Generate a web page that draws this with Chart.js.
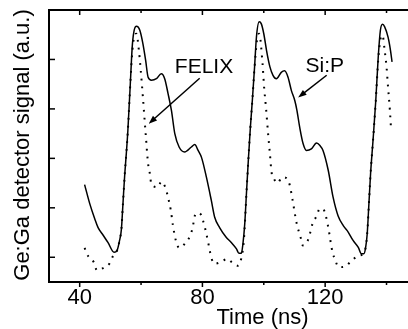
<!DOCTYPE html>
<html>
<head>
<meta charset="utf-8">
<script src="https://cdn.jsdelivr.net/npm/chart.js@4/dist/chart.umd.min.js"></script>
<style>
  html, body { margin: 0; padding: 0; background: #fff; }
  #wrap { width: 408px; height: 329px; position: relative; }
</style>
</head>
<body>
<div id="wrap"><canvas id="chartCanvas"></canvas></div>
<script>
    // Si:P signal (solid line)
    const siTime = [41.6, 43.3, 44.9, 46.0, 47.6, 49.2, 51.2, 52.2, 53.0, 53.6, 54.1, 54.7, 55.2, 55.7, 56.5, 57.2, 58.5, 59.6, 60.6, 61.5,
      62.3, 63.4, 65.0, 66.6, 67.7, 68.8, 69.9, 71.0, 72.4, 74.2, 76.4, 77.5, 78.6, 79.7, 81.3, 82.9, 84.0, 85.6, 87.8, 89.4,
      91.1, 91.9, 92.7, 93.2, 93.8, 94.4, 95.0, 95.6, 96.3, 97.0, 97.6, 98.5, 99.2, 100.0, 100.9, 102.0, 103.0, 104.1, 105.7, 106.8,
      107.9, 109.0, 110.1, 110.8, 111.7, 112.8, 113.9, 115.5, 117.2, 118.3, 119.3, 121.0, 122.6, 124.2, 125.9, 127.5, 129.1, 130.8, 131.8, 132.6,
      133.2, 133.7, 134.2, 134.8, 135.6, 136.5, 137.3, 138.0, 138.7, 139.4, 140.5, 141.3, 141.8];
    const siSignal = [1.47, 1.08, 0.78, 0.60, 0.45, 0.30, 0.10, 0.14, 0.34, 0.57, 1.08, 1.69, 2.10, 2.56, 3.51, 4.32, 4.67, 4.59, 4.32, 3.98,
      3.64, 3.58, 3.61, 3.71, 3.61, 3.31, 2.97, 2.50, 2.23, 2.13, 2.23, 2.28, 2.16, 2.02, 1.62, 1.15, 0.81, 0.60, 0.40, 0.30,
      0.17, 0.08, 0.08, 0.27, 0.68, 1.35, 2.00, 2.60, 3.20, 3.85, 4.45, 4.76, 4.72, 4.52, 4.18, 3.85, 3.68, 3.61, 3.74, 3.77,
      3.64, 3.37, 3.17, 2.97, 2.63, 2.30, 2.16, 2.19, 2.31, 2.26, 2.16, 1.76, 1.21, 0.84, 0.64, 0.51, 0.34, 0.20, 0.07, 0.07,
      0.20, 0.47, 1.01, 1.69, 2.36, 3.17, 4.05, 4.59, 4.71, 4.66, 4.45, 4.18, 3.95];

    // FELIX signal (dotted line)
    const felixTime = [41.6, 42.7, 44.6, 45.6, 47.9, 49.8, 50.9, 52.2, 53.0, 53.6, 54.1, 54.7, 55.2, 55.7, 56.5, 57.2, 58.0, 58.5, 59.3, 59.9,
      60.6, 61.5, 62.3, 62.8, 63.4, 65.5, 66.6, 68.0, 68.8, 69.7, 70.4, 71.3, 72.4, 74.2, 75.9, 76.7, 77.8, 79.1, 80.2, 81.3,
      82.2, 82.9, 84.0, 86.5, 88.0, 89.8, 91.6, 92.7, 93.5, 94.4, 95.0, 95.6, 96.3, 97.0, 97.8, 98.5, 99.6, 100.1, 100.7, 101.4,
      102.0, 102.5, 103.3, 104.4, 106.1, 107.6, 108.5, 109.4, 110.7, 112.1, 112.7, 114.5, 115.9, 117.0, 118.3, 119.3, 120.2, 121.0, 122.4, 123.2,
      124.4, 126.4, 128.6, 130.8, 132.4, 133.2, 133.7, 134.2, 134.8, 135.6, 136.5, 137.3, 138.0, 138.7, 139.4, 140.0, 140.5, 141.1, 141.5];
    const felixSignal = [0.19, 0.03, -0.10, -0.26, -0.21, -0.12, 0.03, 0.14, 0.34, 0.57, 1.08, 1.69, 2.10, 2.56, 3.51, 4.20, 4.50, 4.52, 4.18, 3.78,
      3.24, 2.50, 1.89, 1.72, 1.47, 1.42, 1.53, 1.40, 1.21, 0.95, 0.64, 0.35, 0.19, 0.27, 0.42, 0.57, 0.88, 0.89, 0.74, 0.47,
      0.20, -0.01, -0.13, -0.08, -0.03, -0.11, -0.17, -0.01, 0.34, 1.35, 2.00, 2.60, 3.20, 3.85, 4.40, 4.52, 3.91, 3.44, 3.04, 2.50,
      2.09, 1.73, 1.59, 1.50, 1.62, 1.59, 1.45, 1.15, 0.69, 0.38, 0.24, 0.36, 0.68, 0.81, 0.98, 0.98, 0.84, 0.61, 0.10, -0.04,
      -0.20, -0.19, -0.07, 0.03, 0.07, 0.20, 0.47, 1.01, 1.69, 2.36, 3.17, 4.00, 4.40, 4.49, 4.18, 3.85, 3.44, 2.97, 2.56];

    const xTicks = [40, 60, 80, 100, 120, 140];
    const xTickLabels = ['40', '', '80', '', '120', ''];
    const yTicks = [0, 1, 2, 3, 4];

    const fontFamily = "'Liberation Sans', Arial, sans-serif";

    function toPoints(xs, ys) {
      return xs.map((v, i) => ({ x: v, y: ys[i] }));
    }

    function drawArrow(ctx, x1, y1, x2, y2) {
      const ang = Math.atan2(y2 - y1, x2 - x1);
      const head = 9;
      ctx.beginPath();
      ctx.moveTo(x1, y1);
      ctx.lineTo(x2 - Math.cos(ang) * head * 0.7, y2 - Math.sin(ang) * head * 0.7);
      ctx.stroke();
      ctx.beginPath();
      ctx.moveTo(x2, y2);
      ctx.lineTo(x2 - head * Math.cos(ang - 0.35), y2 - head * Math.sin(ang - 0.35));
      ctx.lineTo(x2 - head * Math.cos(ang + 0.35), y2 - head * Math.sin(ang + 0.35));
      ctx.closePath();
      ctx.fill();
    }

    // frame, inward/outward ticks, labels and arrows
    const extras = {
      id: 'extras',
      afterDraw(chart) {
        const { ctx, chartArea: a } = chart;
        const x = chart.scales.x, y = chart.scales.y;
        ctx.save();
        ctx.strokeStyle = '#000';
        ctx.fillStyle = '#000';
        ctx.lineWidth = 2;
        ctx.beginPath();
        ctx.moveTo(a.left - 1, a.top);
        ctx.lineTo(a.right, a.top);
        ctx.stroke();

        ctx.lineWidth = 1.5;
        xTicks.forEach((v, i) => {
          const px = x.getPixelForValue(v);
          const len = xTickLabels[i] ? 5 : 3;
          ctx.beginPath();
          ctx.moveTo(px, a.bottom);
          ctx.lineTo(px, a.bottom + len);
          ctx.moveTo(px, a.top);
          ctx.lineTo(px, a.top + len);
          ctx.stroke();
        });
        yTicks.forEach(v => {
          const py = y.getPixelForValue(v);
          ctx.beginPath();
          ctx.moveTo(a.left, py);
          ctx.lineTo(a.left + 6, py);
          ctx.stroke();
        });

        ctx.font = '22px ' + fontFamily;
        ctx.textBaseline = 'alphabetic';
        ctx.textAlign = 'center';
        ctx.fillText('Time (ns)', 262.5, 324);

        ctx.save();
        ctx.translate(29, 145);
        ctx.rotate(-Math.PI / 2);
        ctx.fillText('Ge:Ga detector signal (a.u.)', 0, 0);
        ctx.restore();

        ctx.font = '21px ' + fontFamily;
        ctx.textAlign = 'left';
        ctx.fillText('FELIX', x.getPixelForValue(71.0), y.getPixelForValue(3.72));
        ctx.fillText('Si:P', x.getPixelForValue(113.6), y.getPixelForValue(3.74));

        ctx.lineWidth = 1.5;
        drawArrow(ctx, x.getPixelForValue(79.1), y.getPixelForValue(3.62), x.getPixelForValue(62.5), y.getPixelForValue(2.70));
        drawArrow(ctx, x.getPixelForValue(120.5), y.getPixelForValue(3.68), x.getPixelForValue(111.2), y.getPixelForValue(3.23));
        ctx.restore();
      }
    };

    const ctx = document.getElementById('chartCanvas').getContext('2d');
    const chart = new Chart(ctx, {
      type: 'line',
      data: {
        datasets: [
          {
            label: 'Si:P',
            data: toPoints(siTime, siSignal),
            borderColor: '#000',
            borderWidth: 1.5,
            pointRadius: 0,
            cubicInterpolationMode: 'monotone'
          },
          {
            label: 'FELIX',
            data: toPoints(felixTime, felixSignal),
            borderColor: '#000',
            borderWidth: 2,
            borderDash: [1.8, 6],
            pointRadius: 0,
            cubicInterpolationMode: 'monotone'
          }
        ]
      },
      options: {
        responsive: true,
        maintainAspectRatio: false,
        animation: false,
        layout: { padding: { left: 0, top: 10, right: 0, bottom: 0 } },
        plugins: {
          legend: { display: false },
          tooltip: { enabled: false }
        },
        scales: {
          x: {
            type: 'linear',
            min: 30,
            max: 147,
            afterBuildTicks: (scale) => { scale.ticks = xTicks.map(v => ({ value: v })); },
            afterFit: (scale) => { scale.height = 47; },
            ticks: {
              autoSkip: false,
              maxRotation: 0,
              padding: 3,
              color: '#000',
              font: { family: fontFamily, size: 22 },
              callback: (v) => xTickLabels[xTicks.indexOf(v)] || ''
            },
            grid: { display: true, drawOnChartArea: false, drawTicks: false },
            border: { display: true, color: '#000', width: 2 }
          },
          y: {
            min: -0.5,
            max: 5,
            afterFit: (scale) => { scale.width = 49; },
            ticks: { display: false },
            grid: { display: true, drawOnChartArea: false, drawTicks: false },
            border: { display: true, color: '#000', width: 2 }
          }
        }
      },
      plugins: [extras]
    });
</script>
</body>
</html>
